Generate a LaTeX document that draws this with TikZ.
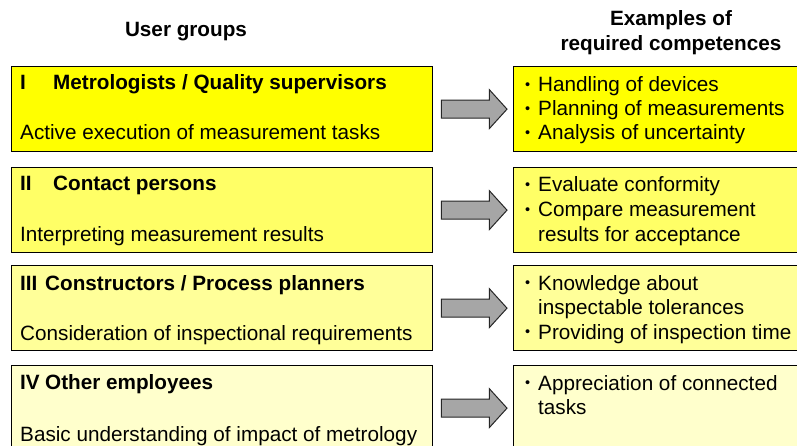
\documentclass[tikz,border=0pt]{standalone}
\usepackage{fontspec}
\setmainfont{Liberation Sans}
\usepackage{xcolor}
\usepackage{graphicx}
\usepackage{tikz}
\usetikzlibrary{calc}

\newcommand{\itembullet}{\makebox[13pt][l]{\raisebox{0.11em}{\scalebox{0.7}{\textbullet}}}}

\begin{document}
\begin{tikzpicture}[x = 1pt,
                    y = -1pt,
                    font = {\fontsize{20.7}{24.5}\selectfont}]


  % FRAME
  \useasboundingbox (0,0) rectangle (797,446);
  \clip (0,0) rectangle (797,446);


  % COLORS
  \definecolor{fillcolor_i}{RGB}{255,255,0}
  \definecolor{fillcolor_ii}{RGB}{255,255,102}
  \definecolor{fillcolor_iii}{RGB}{255,255,153}
  \definecolor{fillcolor_iv}{RGB}{255,255,204}
  \definecolor{arrowcolor}{RGB}{166,166,166}


  % STYLES
  \tikzstyle{groupstyle} = [draw=black, line width=1.3pt, anchor=north west, inner sep=0pt, minimum width=421pt, minimum height=85pt]
  \tikzstyle{compstyle} = [draw=black, line width=1.3pt, anchor=north west, inner sep=0pt, minimum width=300pt, minimum height=85pt]
  \tikzstyle{textstyle} = [anchor=base west, inner sep=0pt]
  \tikzstyle{titlestyle} = [anchor=base west, inner sep=0pt, font={\fontsize{20.7}{24.5}\selectfont\bfseries}]
  \tikzstyle{headstyle} = [anchor=base, inner sep=0pt, font={\fontsize{20.7}{24.5}\selectfont\bfseries}]
  \tikzstyle{arrowstyle} = [fill=arrowcolor, draw=black!85, line width=1pt, line join=miter]


  % HEADERS
  \node[headstyle] (h_groups) at (186,37) {User groups};
  \node[headstyle] (h_comp_a) at (671,26) {Examples of};
  \node[headstyle] (h_comp_b) at (671,50.5) {required competences};


  % USER GROUPS
  \node[groupstyle, fill=fillcolor_i] (g1) at (11,66) {};
  \node[groupstyle, fill=fillcolor_ii] (g2) at (11,167) {};
  \node[groupstyle, fill=fillcolor_iii] (g3) at (11,265) {};
  \node[groupstyle, fill=fillcolor_iv] (g4) at (11,365) {};

  \node[titlestyle] (t1) at ($(g1.north west)+(9,24)$) {\makebox[33pt][l]{I}Metrologists / Quality supervisors};
  \node[textstyle] (d1) at ($(g1.north west)+(9,74)$) {Active execution of measurement tasks};

  \node[titlestyle] (t2) at ($(g2.north west)+(9,24)$) {\makebox[33pt][l]{II}Contact persons};
  \node[textstyle] (d2) at ($(g2.north west)+(9,74)$) {Interpreting measurement results};

  \node[titlestyle] (t3) at ($(g3.north west)+(9,25)$) {\makebox[25pt][l]{III}Constructors / Process planners};
  \node[textstyle] (d3) at ($(g3.north west)+(9,75)$) {Consideration of inspectional requirements};

  \node[titlestyle] (t4) at ($(g4.north west)+(9,24)$) {\makebox[25pt][l]{IV}Other employees};
  \node[textstyle] (d4) at ($(g4.north west)+(9,76)$) {Basic understanding of impact of metrology};


  % COMPETENCES
  \node[compstyle, fill=fillcolor_i] (c1) at (513,66) {};
  \node[compstyle, fill=fillcolor_ii] (c2) at (513,167) {};
  \node[compstyle, fill=fillcolor_iii] (c3) at (513,265) {};
  \node[compstyle, fill=fillcolor_iv] (c4) at (513,365) {};

  \node[textstyle] (l1a) at ($(c1.north west)+(12,26)$) {\itembullet Handling of devices};
  \node[textstyle] (l1b) at ($(c1.north west)+(12,50)$) {\itembullet Planning of measurements};
  \node[textstyle] (l1c) at ($(c1.north west)+(12,74)$) {\itembullet Analysis of uncertainty};

  \node[textstyle] (l2a) at ($(c2.north west)+(12,25)$) {\itembullet Evaluate conformity};
  \node[textstyle] (l2b) at ($(c2.north west)+(12,49.5)$) {\itembullet Compare measurement};
  \node[textstyle] (l2c) at ($(c2.north west)+(12,74)$) {\hspace*{13pt}results for acceptance};

  \node[textstyle] (l3a) at ($(c3.north west)+(12,25)$) {\itembullet Knowledge about};
  \node[textstyle] (l3b) at ($(c3.north west)+(12,49.5)$) {\hspace*{13pt}inspectable tolerances};
  \node[textstyle] (l3c) at ($(c3.north west)+(12,74)$) {\itembullet Providing of inspection time};

  \node[textstyle] (l4a) at ($(c4.north west)+(12,25)$) {\itembullet Appreciation of connected};
  \node[textstyle] (l4b) at ($(c4.north west)+(12,49.5)$) {\hspace*{13pt}tasks};


  % ARROWS
  \draw[arrowstyle] ($(g1.east)+(8,-9)$) -- ($(g1.east)+(56,-9)$) -- ($(g1.east)+(56,-19.5)$) -- ($(c1.west)+(-6,0)$) -- ($(g1.east)+(56,19.5)$) -- ($(g1.east)+(56,9)$) -- ($(g1.east)+(8,9)$) -- cycle;
  \draw[arrowstyle] ($(g2.east)+(8,-9)$) -- ($(g2.east)+(56,-9)$) -- ($(g2.east)+(56,-19.5)$) -- ($(c2.west)+(-6,0)$) -- ($(g2.east)+(56,19.5)$) -- ($(g2.east)+(56,9)$) -- ($(g2.east)+(8,9)$) -- cycle;
  \draw[arrowstyle] ($(g3.east)+(8,-9)$) -- ($(g3.east)+(56,-9)$) -- ($(g3.east)+(56,-19.5)$) -- ($(c3.west)+(-6,0)$) -- ($(g3.east)+(56,19.5)$) -- ($(g3.east)+(56,9)$) -- ($(g3.east)+(8,9)$) -- cycle;
  \draw[arrowstyle] ($(g4.east)+(8,-9)$) -- ($(g4.east)+(56,-9)$) -- ($(g4.east)+(56,-19.5)$) -- ($(c4.west)+(-6,0)$) -- ($(g4.east)+(56,19.5)$) -- ($(g4.east)+(56,9)$) -- ($(g4.east)+(8,9)$) -- cycle;

\end{tikzpicture}
\end{document}
